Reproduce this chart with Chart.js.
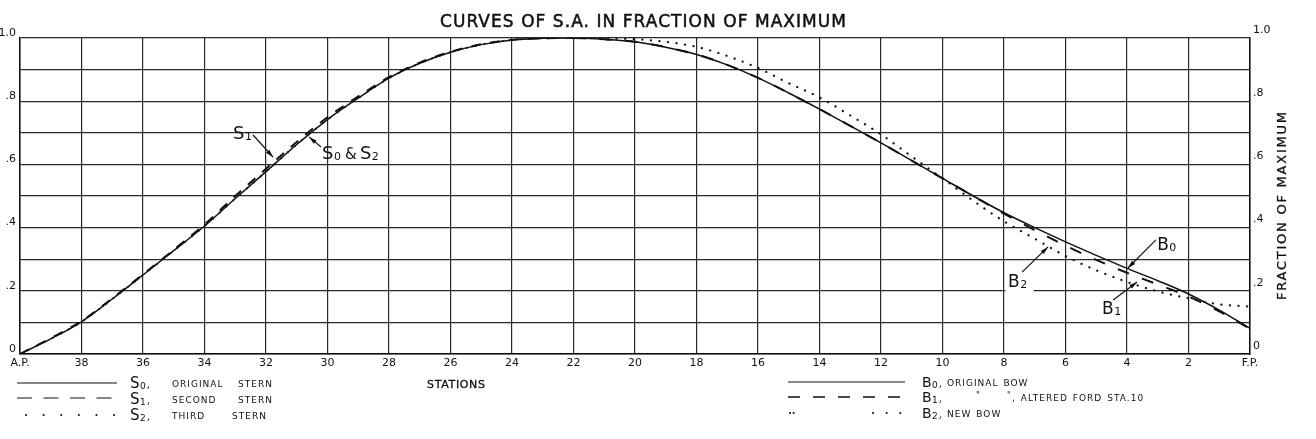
<!DOCTYPE html>
<html lang="en">
<head>
<meta charset="UTF-8">
<title>Curves of S.A. in Fraction of Maximum</title>
<script src="https://cdn.jsdelivr.net/npm/chart.js"></script>
<style>
  body { margin: 0; background: #fff; }
  #wrap { width: 1316px; height: 439px; }
</style>
</head>
<body>
<div id="wrap"><canvas id="saChart" width="1316" height="439"></canvas></div>
<script>
// stations run from A.P. (40) to F.P. (0)
const sternStations = [40, 39, 38, 37, 36, 35, 34, 33, 32, 31, 30, 29, 28, 27, 26, 25, 24, 23, 22];
const s0Values = [0, .048, .102, .174, .25, .327, .405, .492, .577, .663, .742, .81, .873, .92, .955, .979, .994, .999, 1.0];
const s1Values = [0, .05, .104, .176, .252, .33, .41, .5, .586, .671, .749, .815, .876, .922, .956, .98, .994, .999, 1.0];
const s2Values = [0, .048, .102, .174, .25, .327, .405, .492, .577, .663, .742, .81, .873, .92, .955, .979, .994, .999, 1.0];

const bowStations = [22, 21, 20, 19, 18, 17, 16, 15, 14, 13, 12, 11, 10, 9, 8, 7, 6, 5, 4, 3, 2, 1, 0];
const b0Values = [1.0, .996, .988, .971, .948, .915, .874, .826, .775, .722, .668, .612, .556, .5, .447, .4, .355, .312, .271, .232, .19, .139, .081];
const b1Values = [1.0, .996, .988, .971, .948, .915, .874, .826, .775, .722, .668, .612, .556, .5, .444, .392, .343, .298, .257, .22, .182, .135, .08];
const b2Values = [1.0, .999, .996, .988, .972, .943, .905, .857, .812, .755, .695, .625, .556, .485, .42, .365, .31, .265, .228, .198, .176, .157, .15];

const FONT = '"DejaVu Sans", sans-serif';
const INK = '#111';

function pts(xs, ys) {
  return xs.map((x, i) => ({ x: x, y: ys[i] }));
}

function line(label, xs, ys, dash, width, cap) {
  return {
    label: label,
    data: pts(xs, ys),
    borderColor: INK,
    borderWidth: width,
    borderDash: dash,
    borderCapStyle: cap || 'butt',
    pointRadius: 0,
    fill: false,
    cubicInterpolationMode: 'monotone'
  };
}

// text stretched to a width with letter spacing
function spaced(ctx, text, x, y, size, width, bold) {
  ctx.font = size + 'px ' + FONT;
  ctx.letterSpacing = '0px';
  const w = ctx.measureText(text).width;
  const ls = width ? (width - w) / Math.max(text.length - 1, 1) : 0;
  ctx.letterSpacing = ls + 'px';
  ctx.fillText(text, x, y);
  if (bold) {
    ctx.lineWidth = bold;
    ctx.strokeText(text, x, y);
  }
  ctx.letterSpacing = '0px';
}

// legend words: small caps with a little tracking, never overlapping
function words(ctx, list, y) {
  ctx.font = '9px ' + FONT;
  ctx.letterSpacing = '1px';
  let end = 0;
  list.forEach(w => {
    const x = Math.max(w[1], end + 5);
    ctx.fillText(w[0], x, y);
    end = x + ctx.measureText(w[0]).width;
  });
  ctx.letterSpacing = '0px';
}

// letter with a subscript, returns end x
function withSub(ctx, main, sub, x, y, size) {
  ctx.font = size + 'px ' + FONT;
  ctx.fillText(main, x, y);
  let end = x + ctx.measureText(main).width + 0.5;
  const ss = Math.round(size * 0.62);
  ctx.font = ss + 'px ' + FONT;
  ctx.fillText(sub, end, y + size * 0.05);
  return end + ctx.measureText(sub).width;
}

function arrow(ctx, x1, y1, x2, y2) {
  ctx.beginPath();
  ctx.moveTo(x1, y1);
  ctx.lineTo(x2, y2);
  ctx.stroke();
  const a = Math.atan2(y2 - y1, x2 - x1);
  ctx.beginPath();
  ctx.moveTo(x2, y2);
  ctx.lineTo(x2 - 8 * Math.cos(a) + 2.2 * Math.sin(a), y2 - 8 * Math.sin(a) - 2.2 * Math.cos(a));
  ctx.lineTo(x2 - 8 * Math.cos(a) - 2.2 * Math.sin(a), y2 - 8 * Math.sin(a) + 2.2 * Math.cos(a));
  ctx.closePath();
  ctx.fill();
}

function legendLine(ctx, x1, x2, y, dash, width, cap) {
  ctx.save();
  ctx.lineWidth = width;
  ctx.lineCap = cap || 'butt';
  ctx.setLineDash(dash);
  ctx.beginPath();
  ctx.moveTo(x1, y);
  ctx.lineTo(x2, y);
  ctx.stroke();
  ctx.restore();
}

const drawingText = {
  id: 'drawingText',
  afterDraw(chart) {
    const ctx = chart.ctx;
    const sx = chart.scales.x, sy = chart.scales.y;
    const X = v => sx.getPixelForValue(v);
    const Y = v => sy.getPixelForValue(v);
    ctx.save();
    ctx.fillStyle = INK;
    ctx.strokeStyle = INK;
    ctx.textBaseline = 'alphabetic';
    ctx.textAlign = 'left';

    // title
    spaced(ctx, 'CURVES OF S.A. IN FRACTION OF MAXIMUM', 440, 27, 17, 406, 0.5);

    // right axis title, reads upward
    ctx.save();
    ctx.translate(1286, 300);
    ctx.rotate(-Math.PI / 2);
    spaced(ctx, 'FRACTION OF MAXIMUM', 0, 0, 13, 188, 0.3);
    ctx.restore();

    spaced(ctx, 'STATIONS', 427, 388, 11, 58, 0.3);

    // stern legend
    legendLine(ctx, 17, 117, 383, [], 1.1);
    legendLine(ctx, 17, 118, 398, [15, 11.5], 1.2);
    legendLine(ctx, 26, 118, 415, [0.1, 17.5], 2, 'round');
    let e = withSub(ctx, 'S', '0', 130, 388, 15);
    spaced(ctx, ',', e + 1, 388, 10);
    words(ctx, [['ORIGINAL', 172], ['STERN', 238]], 387);
    e = withSub(ctx, 'S', '1', 130, 404, 15);
    spaced(ctx, ',', e + 1, 404, 10);
    words(ctx, [['SECOND', 172], ['STERN', 238]], 403);
    e = withSub(ctx, 'S', '2', 130, 420, 15);
    spaced(ctx, ',', e + 1, 420, 10);
    words(ctx, [['THIRD', 172], ['STERN', 232]], 419);

    // bow legend
    legendLine(ctx, 788, 905, 382, [], 1.1);
    legendLine(ctx, 788, 905, 397, [12, 13], 1.5);
    legendLine(ctx, 790, 794, 413, [0.1, 3.5], 2, 'round');
    legendLine(ctx, 873, 902, 413, [0.1, 13.5], 2, 'round');
    e = withSub(ctx, 'B', '0', 922, 387, 14);
    spaced(ctx, ',', e + 1, 387, 10);
    words(ctx, [['ORIGINAL', 947], ['BOW', 998]], 386);
    e = withSub(ctx, 'B', '1', 922, 402, 14);
    spaced(ctx, ',', e + 1, 402, 10);
    spaced(ctx, '"', 976, 398, 8);
    spaced(ctx, '"', 1007, 398, 8);
    words(ctx, [[',', 1012], ['ALTERED', 1020], ['FORD', 1072], ['STA.10', 1104]], 401);
    e = withSub(ctx, 'B', '2', 922, 418, 14);
    spaced(ctx, ',', e + 1, 418, 10);
    words(ctx, [['NEW', 947], ['BOW', 975]], 417);

    // curve labels
    ctx.lineWidth = 1.2;
    withSub(ctx, 'S', '1', X(33.07), Y(0.68), 18);
    arrow(ctx, X(32.42), Y(0.693), X(31.77), Y(0.623));

    let t = withSub(ctx, 'S', '0', X(30.18), Y(0.617), 18);
    ctx.font = '15px ' + FONT;
    ctx.fillText('&', t + 4, Y(0.617));
    withSub(ctx, 'S', '2', t + 19, Y(0.617), 18);
    arrow(ctx, X(30.21), Y(0.655), X(30.6), Y(0.687));

    ctx.fillStyle = '#fff';
    ctx.fillRect(X(7.95), Y(0.27), 28, 26);
    ctx.fillStyle = INK;
    withSub(ctx, 'B', '2', X(7.87), Y(0.212), 17);
    arrow(ctx, X(7.41), Y(0.259), X(6.57), Y(0.339));

    withSub(ctx, 'B', '0', X(3.02), Y(0.329), 17);
    arrow(ctx, X(3.06), Y(0.361), X(3.97), Y(0.272));

    withSub(ctx, 'B', '1', X(4.81), Y(0.127), 17);
    arrow(ctx, X(4.45), Y(0.171), X(3.67), Y(0.228));

    ctx.restore();
  }
};

function yLabel(v) {
  const k = Math.round(v * 10);
  if (k % 2) return '';
  if (k === 0) return '0';
  if (k === 10) return '1.0';
  return '.' + k;
}

new Chart(document.getElementById('saChart').getContext('2d'), {
  type: 'line',
  data: {
    datasets: [
      line('S0, ORIGINAL STERN', sternStations, s0Values, [], 1.5),
      line('S1, SECOND STERN', sternStations, s1Values, [10, 9], 2),
      line('S2, THIRD STERN', sternStations, s2Values, [0.1, 9], 2, 'round'),
      line('B0, ORIGINAL BOW', bowStations, b0Values, [], 1.5),
      line('B1, ALTERED FORD STA.10', bowStations, b1Values, [12, 14], 2),
      line('B2, NEW BOW', bowStations, b2Values, [0.1, 8.5], 2.2, 'round')
    ]
  },
  options: {
    responsive: false,
    animation: false,
    layout: { padding: { top: 38, left: 0, right: 0, bottom: 0 } },
    plugins: {
      legend: { display: false },
      tooltip: { enabled: false }
    },
    scales: {
      x: {
        type: 'linear',
        reverse: true,
        min: 0,
        max: 40,
        afterFit: s => { s.height = 85; },
        grid: { color: '#2a2a2a', lineWidth: 1.2, drawTicks: false },
        border: { color: INK, width: 1.5 },
        ticks: {
          stepSize: 2,
          padding: 3,
          color: INK,
          font: { family: FONT, size: 11 },
          maxRotation: 0,
          autoSkip: false,
          callback: v => v === 40 ? 'A.P.' : (v === 0 ? 'F.P.' : v)
        }
      },
      y: {
        min: 0,
        max: 1,
        afterFit: s => { s.width = 20; },
        grid: { color: '#2a2a2a', lineWidth: 1.2, drawTicks: false },
        border: { color: INK, width: 1.5 },
        ticks: {
          stepSize: 0.1,
          padding: 4,
          labelOffset: -5,
          color: INK,
          font: { family: FONT, size: 11 },
          callback: yLabel
        }
      },
      y2: {
        position: 'right',
        min: 0,
        max: 1,
        afterFit: s => { s.width = 66; },
        grid: { display: false, drawTicks: false },
        border: { color: INK, width: 1.5 },
        ticks: {
          stepSize: 0.1,
          padding: 3,
          labelOffset: -8,
          color: INK,
          font: { family: FONT, size: 11 },
          callback: yLabel
        }
      }
    }
  },
  plugins: [drawingText]
});
</script>
</body>
</html>
